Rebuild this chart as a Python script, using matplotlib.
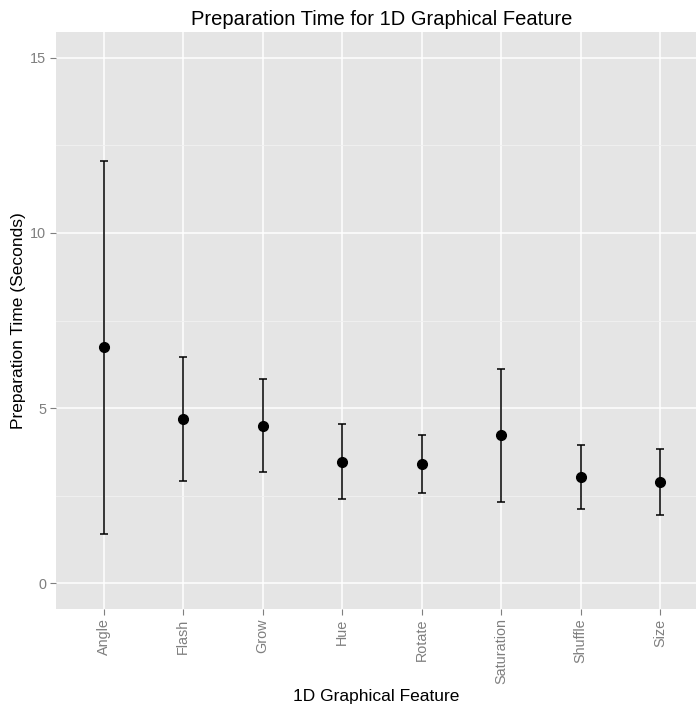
import numpy as np
import matplotlib
matplotlib.use("Agg")
import matplotlib.pyplot as plt

# Preparation time per 1D graphical feature: mean and interval bounds (seconds)
features = ["Angle", "Flash", "Grow", "Hue", "Rotate", "Saturation", "Shuffle", "Size"]
mean_time = [6.73, 4.68, 4.50, 3.45, 3.39, 4.22, 3.04, 2.88]
upper_time = [12.05, 6.46, 5.84, 4.54, 4.23, 6.12, 3.95, 3.82]
lower_time = [1.40, 2.92, 3.18, 2.39, 2.58, 2.32, 2.11, 1.95]

plt.rcParams["font.family"] = ["Liberation Sans", "DejaVu Sans"]

fig = plt.figure(figsize=(6.96, 7.08), dpi=100)
ax = fig.add_axes([0.0805, 0.1403, 0.9195, 0.8145])

x = np.arange(len(features))
mean = np.array(mean_time)
yerr = np.vstack([mean - np.array(lower_time), np.array(upper_time) - mean])

# ggplot-style grey panel with white grid
ax.set_facecolor("#E5E5E5")
for s in ax.spines.values():
    s.set_visible(False)
ax.set_axisbelow(True)
ax.set_yticks([0, 5, 10, 15])
ax.set_yticks([2.5, 7.5, 12.5], minor=True)
ax.grid(True, which="major", color="white", linewidth=1.1)
ax.grid(True, which="minor", axis="y", color="#F2F2F2", linewidth=0.6)
ax.tick_params(which="minor", length=0)

ax.errorbar(x, mean, yerr=yerr, fmt="none", ecolor="black",
            elinewidth=1.1, capsize=3.2, capthick=1.1, zorder=3)
ax.plot(x, mean, "o", color="black", markersize=7, zorder=4)

ax.set_xlim(-0.6, 7.45)
ax.set_ylim(-0.73, 15.74)
ax.set_xticks(x)
ax.set_xticklabels(features, rotation=90)
ax.tick_params(which="major", colors="#7F7F7F", length=4, width=0.8,
               labelsize=10.4, pad=3)
for lab in ax.get_xticklabels() + ax.get_yticklabels():
    lab.set_color("#7F7F7F")

ax.set_title("Preparation Time for 1D Graphical Feature", fontsize=14.5,
             pad=5, x=0.509)
ax.set_xlabel("1D Graphical Feature", fontsize=12.5, va="center")
ax.set_ylabel("Preparation Time (Seconds)", fontsize=12.5, va="center")
ax.xaxis.set_label_coords(0.5, -0.153)
ax.yaxis.set_label_coords(-0.059, 0.5)

fig.savefig("out.png", dpi=100)
